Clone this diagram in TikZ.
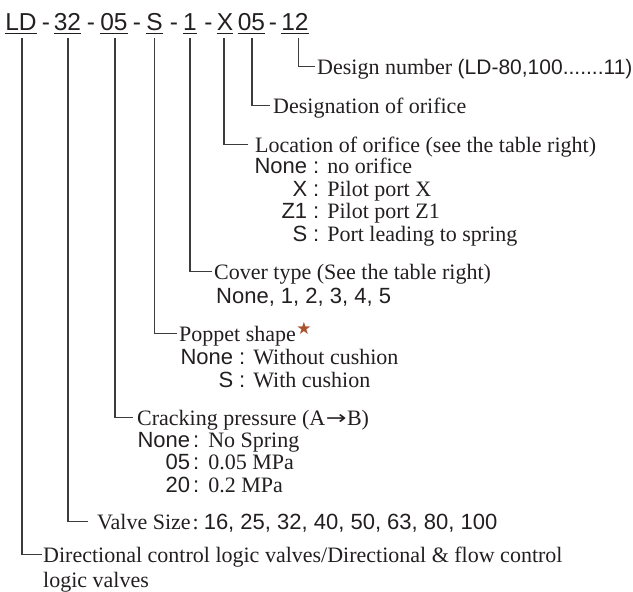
\documentclass[tikz,border=0pt]{standalone}
\usepackage{fontspec}
\setmainfont{Liberation Serif}
\setsansfont{Liberation Sans}
\newfontfamily\symfont{DejaVu Sans}
\definecolor{ink}{RGB}{35,31,32}
\definecolor{leadc}{RGB}{60,60,60}
\definecolor{starc}{RGB}{170,82,44}
\newcommand\optrow[4]{\makebox[53pt][r]{\sffamily\fontsize{22}{26}\selectfont #1}\hspace{#2}{\sffamily\fontsize{22}{26}\selectfont :}\hspace{#3}#4}
\begin{document}
\begin{tikzpicture}[x=1pt,y=-1pt,
  code/.style={font=\fontsize{24.5}{28}\selectfont\sffamily, inner sep=0pt, anchor=base, text=ink},
  desc/.style={font=\fontsize{22}{25}\selectfont, inner sep=0pt, anchor=base west, text=ink},
  sanstxt/.style={desc, font=\fontsize{22}{26}\selectfont\sffamily},
  leader/.style={draw=leadc, line width=1.1pt},
  uline/.style={draw=ink, line width=1.3pt}]
\useasboundingbox (0,0) rectangle (633,592);
% code segments
\node[code] (sLD) at (21,30) {LD};
\node[code] (h1) at (46,30) {-};
\node[code] (s32) at (67.5,30) {32};
\node[code] (h2) at (91,30) {-};
\node[code] (s05a) at (114,30) {05};
\node[code] (h3) at (137,30) {-};
\node[code] (sS) at (154.5,30) {S};
\node[code] (h4) at (174,30) {-};
\node[code] (s1) at (190,30) {1};
\node[code] (h5) at (208.5,30) {-};
\node[code] (sX) at (225,30) {X};
\node[code] (s05b) at (251.5,30) {05};
\node[code] (h6) at (273,30) {-};
\node[code] (s12) at (295,30) {12};
\foreach \n in {sLD,s32,s05a,sS,s1,sX,s05b,s12}
  \draw[uline] ([yshift=-3.5pt]\n.base west) -- ([yshift=-3.5pt]\n.base east);
% descriptions
\node[desc] (d12) at (317,74) {Design number {\sffamily\fontsize{21}{25}\selectfont(LD-80,100.......11)}};
\node[desc] (dorf) at (273,113) {Designation of orifice};
\node[desc] (dloc) at (255,152) {Location of orifice (see the table right)};
\node[desc] (oloc1) at (254,173) {\optrow{None}{6pt}{8pt}{no orifice}};
\node[desc] (oloc2) at (254,196) {\optrow{X}{6pt}{8pt}{Pilot port X}};
\node[desc] (oloc3) at (254,218) {\optrow{Z1}{6pt}{8pt}{Pilot port Z1}};
\node[desc] (oloc4) at (254,241) {\optrow{S}{6pt}{8pt}{Port leading to spring}};
\node[desc] (dcov) at (214,279) {Cover type (See the table right)};
\node[sanstxt] (ocov) at (216,303) {None, 1, 2, 3, 4, 5};
\node[desc] (dpop) at (179,341) {Poppet shape\hspace{0.5pt}\raisebox{7pt}{\color{starc}\symfont\fontsize{17}{17}\selectfont ★}};
\node[desc] (opop1) at (180,364) {\optrow{None}{6pt}{8pt}{Without cushion}};
\node[desc] (opop2) at (180,387) {\optrow{S}{6pt}{8pt}{With cushion}};
\node[desc] (dcrk) at (137,425) {Cracking pressure (A\hspace{0.5pt}\raisebox{0.5pt}{\scalebox{1.3}[1]{\symfont\fontsize{19}{19}\selectfont →}}\hspace{0.5pt}B)};
\node[desc] (ocrk1) at (137,447) {\optrow{None}{3pt}{9pt}{No Spring}};
\node[desc] (ocrk2) at (137,469) {\optrow{05}{3pt}{9pt}{0.05 MPa}};
\node[desc] (ocrk3) at (137,492) {\optrow{20}{3pt}{9pt}{0.2 MPa}};
\node[desc] (dsize) at (97,529) {Valve Size\hspace{2pt}:\hspace{5pt}{\sffamily\fontsize{22}{26}\selectfont 16, 25, 32, 40, 50, 63, 80, 100}};
\node[desc, align=left] (ddir) at (43,587) {Directional control logic valves/Directional \& flow control\\logic valves};
% leaders
\draw[leader] ([xshift=1pt,yshift=-8pt]sLD.base) |- ([xshift=-1pt,yshift=32.5pt]ddir.base west);
\draw[leader] ([xshift=0.5pt,yshift=-8pt]s32.base) |- ([xshift=-9pt,yshift=7.5pt]dsize.base west);
\draw[leader] ([xshift=1pt,yshift=-8pt]s05a.base) |- ([xshift=-4pt,yshift=7.5pt]dcrk.base west);
\draw[leader] ([yshift=-8pt]sS.base) |- ([xshift=-2pt,yshift=7.5pt]dpop.base west);
\draw[leader] ([yshift=-8pt]s1.base) |- ([xshift=-2pt,yshift=7.5pt]dcov.base west);
\draw[leader] ([xshift=-1pt,yshift=-8pt]sX.base) |- ([xshift=-7pt,yshift=7.5pt]dloc.base west);
\draw[leader] ([xshift=0.5pt,yshift=-8pt]s05b.base) |- ([xshift=-3pt,yshift=7.5pt]dorf.base west);
\draw[leader] ([xshift=3.5pt,yshift=-8pt]s12.base) |- ([xshift=-2pt,yshift=7.5pt]d12.base west);
\end{tikzpicture}
\end{document}
